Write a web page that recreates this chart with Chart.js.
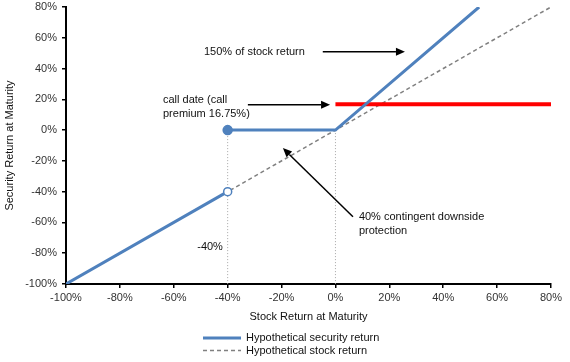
<!DOCTYPE html>
<html>
<head>
<meta charset="utf-8">
<script src="https://cdn.jsdelivr.net/npm/chart.js@4.4.1/dist/chart.umd.min.js"></script>
<style>
  html, body { margin: 0; padding: 0; background: #fff; }
  #wrap { width: 570px; height: 362px; }
</style>
</head>
<body>
<div id="wrap"><canvas id="payoffChart" width="570" height="362"></canvas></div>
<script>
// Stock return at maturity (x) and security return (y), in %
const securityX = [-100, -40, -40, -40, 0, 53.33];
const securityY = [-100, -40, null, 0, 0, 80];
const stockX = [-100, 80];
const stockY = [-100, 80];
const callX = [0, 80];
const callY = [16.75, 16.75];
const barrierX = [-40, -40, null, 0, 0];
const barrierY = [0, -100, null, 0, -100];
const xTicks = [-100, -80, -60, -40, -20, 0, 20, 40, 60, 80];
const yTicks = [-100, -80, -60, -40, -20, 0, 20, 40, 60, 80];

const font = '"Liberation Sans", Arial, sans-serif';
const blue = '#4f81bd';

function toPoints(xs, ys) {
    return xs.map((x, i) => ({ x: x, y: (x === null) ? null : ys[i] }));
}

// arrows and notes, in data units
const notes = [
    { text: ['150% of stock return'], x: -48.8, y: 51 },
    { text: ['call date (call', 'premium 16.75%)'], x: -64, y: 19.5 },
    { text: ['40% contingent downside', 'protection'], x: 8.7, y: -56.3 },
    { text: ['-40%'], x: -51.3, y: -76 }
];
const arrows = [
    { from: [-4.7, 51], to: [25.8, 51] },
    { from: [-32.5, 16.5], to: [-2, 16.5] },
    { from: [6.5, -56.3], to: [-19.5, -11.7] }
];

const annotate = {
    id: 'annotate',
    afterDatasetsDraw(chart) {
        const c = chart.ctx;
        const sx = chart.scales.x, sy = chart.scales.y;
        c.save();
        c.fillStyle = '#111';
        c.font = '11px ' + font;
        c.textBaseline = 'middle';
        c.textAlign = 'left';
        notes.forEach(n => {
            const px = sx.getPixelForValue(n.x);
            const py = sy.getPixelForValue(n.y);
            n.text.forEach((t, i) => c.fillText(t, px, py + i * 14));
        });
        c.strokeStyle = '#000';
        c.fillStyle = '#000';
        c.lineWidth = 1.5;
        arrows.forEach(a => {
            const x1 = sx.getPixelForValue(a.from[0]), y1 = sy.getPixelForValue(a.from[1]);
            const x2 = sx.getPixelForValue(a.to[0]), y2 = sy.getPixelForValue(a.to[1]);
            const ang = Math.atan2(y2 - y1, x2 - x1);
            const len = 9, half = 4;
            const bx = x2 - len * Math.cos(ang), by = y2 - len * Math.sin(ang);
            c.beginPath();
            c.moveTo(x1, y1);
            c.lineTo(bx, by);
            c.stroke();
            c.beginPath();
            c.moveTo(x2, y2);
            c.lineTo(bx + half * Math.sin(ang), by - half * Math.cos(ang));
            c.lineTo(bx - half * Math.sin(ang), by + half * Math.cos(ang));
            c.closePath();
            c.fill();
        });

        // legend, stacked under the axis title
        const lx = 203, ly = 338;
        const items = [chart.data.datasets[0], chart.data.datasets[2]];
        items.forEach((ds, i) => {
            const y = ly + i * 12.5;
            c.beginPath();
            c.strokeStyle = ds.borderColor;
            c.lineWidth = ds.borderWidth;
            c.setLineDash(ds.borderDash || []);
            c.moveTo(lx, y);
            c.lineTo(lx + 38, y);
            c.stroke();
            c.setLineDash([]);
            c.fillStyle = '#111';
            c.fillText(ds.label, lx + 43, y);
        });
        c.restore();
    }
};

const ctx = document.getElementById('payoffChart').getContext('2d');
new Chart(ctx, {
    type: 'scatter',
    data: {
        datasets: [{
            label: 'Hypothetical security return',
            data: toPoints(securityX, securityY),
            showLine: true,
            spanGaps: false,
            borderColor: blue,
            borderWidth: 3,
            pointRadius: [0, 4, 0, 4.5, 0, 0],
            pointBorderWidth: 1.5,
            pointBorderColor: blue,
            pointBackgroundColor: [blue, '#fff', blue, blue, blue, blue]
        }, {
            label: 'Call',
            data: toPoints(callX, callY),
            showLine: true,
            borderColor: '#ff0000',
            borderWidth: 4,
            pointRadius: 0
        }, {
            label: 'Hypothetical stock return',
            data: toPoints(stockX, stockY),
            showLine: true,
            borderColor: '#808080',
            borderWidth: 1.5,
            borderDash: [4, 3],
            pointRadius: 0
        }, {
            label: 'Barrier',
            data: toPoints(barrierX, barrierY),
            showLine: true,
            spanGaps: false,
            borderColor: '#a6a6a6',
            borderWidth: 1,
            borderDash: [1, 2],
            pointRadius: 0
        }]
    },
    options: {
        responsive: false,
        animation: false,
        layout: { padding: { top: 7, right: 19, bottom: 0, left: 0 } },
        plugins: {
            legend: { display: false },
            tooltip: { enabled: false }
        },
        scales: {
            x: {
                type: 'linear',
                min: -100,
                max: 80,
                afterFit: s => { s.height = 78; },
                afterBuildTicks: s => { s.ticks = xTicks.map(v => ({ value: v })); },
                border: { color: '#000', width: 2 },
                grid: { drawOnChartArea: false, color: '#000', lineWidth: 1.5, tickLength: 4 },
                ticks: {
                    padding: 3,
                    color: '#333',
                    font: { family: font, size: 11 },
                    callback: v => v + '%'
                },
                title: {
                    display: true,
                    text: 'Stock Return at Maturity',
                    color: '#111',
                    font: { family: font, size: 11 },
                    padding: { top: 0, bottom: 38 }
                }
            },
            y: {
                type: 'linear',
                min: -100,
                max: 80,
                afterFit: s => { s.width = 66; s.paddingTop = 0; s.paddingBottom = 0; },
                afterBuildTicks: s => { s.ticks = yTicks.map(v => ({ value: v })); },
                border: { color: '#000', width: 2 },
                grid: { drawOnChartArea: false, color: '#000', lineWidth: 1.5, tickLength: 4 },
                ticks: {
                    padding: 5,
                    color: '#333',
                    font: { family: font, size: 11 },
                    callback: v => v + '%'
                },
                title: {
                    display: true,
                    text: 'Security Return at Maturity',
                    color: '#111',
                    font: { family: font, size: 11 },
                    padding: { top: 3, bottom: 0 }
                }
            }
        }
    },
    plugins: [annotate]
});
</script>
</body>
</html>
